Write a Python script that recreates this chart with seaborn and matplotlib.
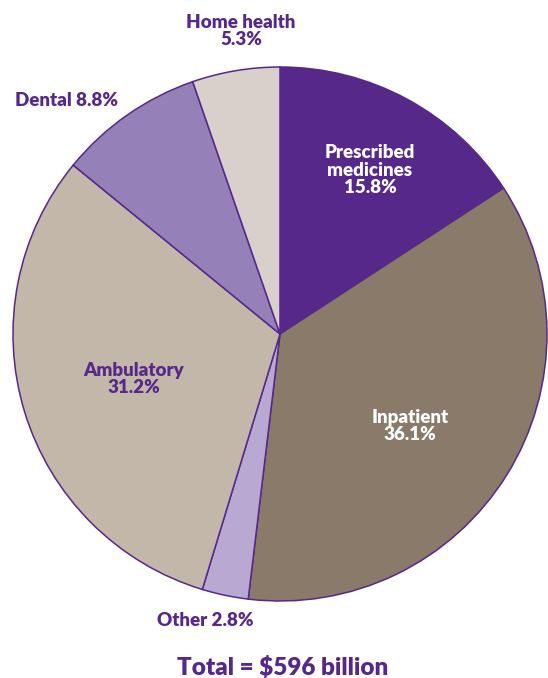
import matplotlib.pyplot as plt
import seaborn as sns

sns.set_style("white")
plt.rcParams['font.family'] = ['Lato', 'DejaVu Sans']

categories = ['Prescribed medicines', 'Inpatient', 'Other', 'Ambulatory', 'Dental', 'Home health']
shares = [15.8, 36.1, 2.8, 31.2, 8.8, 5.3]
colors = ['#55288a', '#897a69', '#b9a8d2', '#c3b7a9', '#9580b8', '#d9d0cc']
purple = '#55288a'

# pie centre / radius in pixels
W, H = 548, 678
cx, cy, r = 280, 334, 267

fig = plt.figure(figsize=(W / 100, H / 100), dpi=100)
ax = fig.add_axes([0, 0, 1, 1])
ax.pie(shares, colors=colors, startangle=90, counterclock=False,
       wedgeprops=dict(edgecolor=purple, linewidth=1.1))
ax.set_xlim(-cx / r, (W - cx) / r)
ax.set_ylim(-(H - cy) / r, cy / r)
ax.set_aspect('equal')
ax.axis('off')


def px(x, y):
    return (x - cx) / r, (cy - y) / r


labels = [
    ('Home health\n5.3%', 241, 31, purple),
    ('Dental 8.8%', 67, 101, purple),
    ('Prescribed\nmedicines\n15.8%', 370, 170, 'white'),
    ('Inpatient\n36.1%', 410, 426, 'white'),
    ('Ambulatory\n31.2%', 134, 379, purple),
    ('Other 2.8%', 205, 620, purple),
]
for text, x, y, c in labels:
    ax.text(*px(x, y), text, ha='center', va='center', color=c,
            fontsize=13.5, fontweight='heavy', linespacing=1.05)

ax.text(*px(283, 667), 'Total = $596 billion', ha='center', va='center',
        color=purple, fontsize=17.5, fontweight='heavy')

plt.savefig('out.png', dpi=100)
